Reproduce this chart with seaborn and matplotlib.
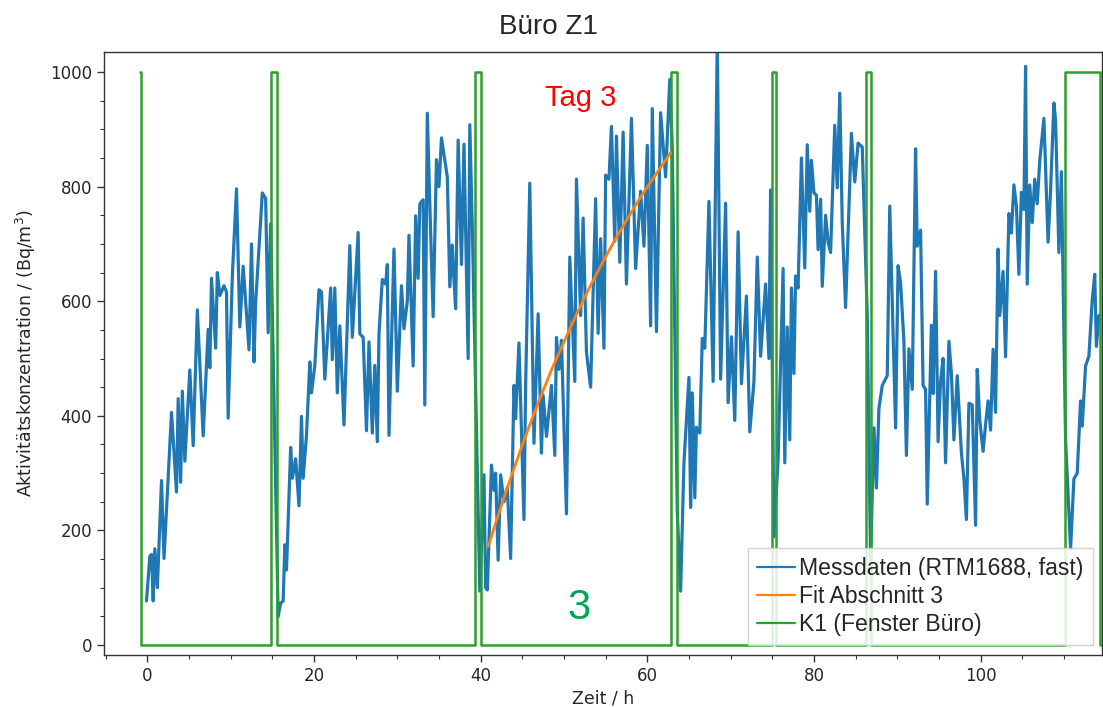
import numpy as np
import pandas as pd
import matplotlib
matplotlib.use("Agg")
import matplotlib.pyplot as plt
from matplotlib.ticker import MultipleLocator
import seaborn as sns

# ---------------- data ----------------
# Messdaten (RTM1688, fast): time in h, activity concentration in Bq/m^3
t_mess = [
    -0.1, 0.3, 0.5, 0.7, 0.9, 1.2, 1.7, 2.0, 2.9, 3.5, 3.7, 4.0, 4.2, 4.5, 5.1, 5.5, 6.0, 6.7, 7.3, 7.5,
    7.7, 8.2, 8.4, 8.7, 9.2, 9.5, 9.7, 10.2, 10.7, 11.1, 11.5, 12.2, 12.5, 12.8, 13.0, 13.8, 14.2, 14.5, 14.8,
    15.7, 16.0, 16.3, 16.5, 16.7, 17.2, 17.4, 17.8, 18.2, 18.5, 18.7, 19.1, 19.5, 19.7, 20.1, 20.6, 20.9,
    21.3, 22.0, 22.2, 22.5, 22.8, 23.1, 23.6, 24.3, 24.6, 25.3, 25.5, 25.9, 26.3, 26.6, 27.0, 27.3, 27.6,
    27.8, 28.2, 28.6, 28.8, 29.0, 29.6, 30.0, 30.5, 30.8, 31.2, 31.4, 31.9, 32.2, 32.5, 32.7, 33.1, 33.3,
    33.6, 33.9, 34.3, 34.7, 35.0, 35.3, 36.0, 36.3, 36.6, 36.7, 37.0, 37.3, 37.7, 38.0, 38.5, 38.7, 39.0,
    39.9, 40.4, 40.6, 40.8, 41.3, 41.6, 41.8, 42.1, 42.4, 42.8, 43.2, 43.6, 44.0, 44.2, 44.6, 45.2, 45.4,
    45.9, 46.4, 46.9, 47.3, 47.5, 47.9, 48.5, 48.9, 49.1, 49.4, 49.7, 50.3, 50.7, 51.3, 51.5, 52.0, 52.3,
    52.7, 53.2, 53.8, 54.1, 54.4, 54.8, 55.0, 55.4, 55.7, 56.1, 56.3, 56.7, 57.1, 57.5, 58.1, 58.6, 59.2,
    59.6, 60.0, 60.4, 60.6, 61.1, 61.6, 62.2, 62.7, 63.0,
    63.6, 64.0, 64.4, 65.0, 65.2, 65.4, 65.7, 65.9, 66.3, 66.6, 66.9, 67.4, 67.9, 68.4, 68.8, 69.4, 69.7,
    70.1, 70.5, 70.9, 71.3, 71.9, 72.3, 72.8, 73.2, 73.6, 74.2, 74.6, 74.8, 75.2, 75.7, 76.3, 76.5, 76.8,
    77.1, 77.3, 77.6, 77.8, 78.1, 78.5, 78.9, 79.2, 79.5, 79.7, 80.0, 80.3, 80.5, 80.8, 81.0, 81.4, 81.7,
    82.0, 82.5, 82.8, 83.1, 83.4, 83.8, 84.5, 84.9, 85.3, 85.8, 86.4, 86.8,
    87.2, 87.5, 87.8, 88.2, 88.8, 89.1, 89.8, 90.1, 90.4, 90.8, 91.1, 91.4, 91.8, 92.2, 92.4, 92.8, 93.1,
    93.4, 93.6, 94.1, 94.3, 94.6, 94.9, 95.2, 95.5, 95.8, 96.2, 96.5, 96.8, 97.2, 97.7, 98.0, 98.3, 98.6,
    99.0, 99.4, 99.6, 99.9, 100.3, 100.6, 100.9, 101.2, 101.5, 101.8, 102.1, 102.3, 102.7, 103.0, 103.4,
    103.7, 104.0, 104.3, 104.6, 104.9, 105.2, 105.4, 105.6, 105.9, 106.2, 106.5, 106.8, 107.1, 107.6,
    108.1, 108.4, 108.8, 109.0, 109.4, 109.7, 110.2, 110.8, 111.2, 111.6, 112.0, 112.2, 112.6, 113.0,
    113.4, 113.7, 113.9, 114.2,
]
c_mess = [
    77, 155, 158, 77, 168, 100, 287, 151, 406, 267, 430, 284, 443, 321, 480, 348, 585, 365, 551, 484,
    640, 518, 650, 610, 627, 616, 396, 644, 796, 555, 661, 515, 700, 494, 598, 789, 779, 545, 735,
    50, 73, 77, 175, 131, 345, 291, 325, 243, 399, 291, 366, 494, 440, 488, 620, 616,
    464, 623, 498, 623, 440, 557, 384, 697, 537, 720, 543, 537, 374, 529, 370, 488, 355,
    543, 638, 630, 664, 366, 691, 443, 627, 552, 600, 715, 487, 749, 640, 770, 777, 419,
    928, 770, 573, 847, 800, 885, 817, 625, 698, 664, 587, 881, 664, 874, 500, 908, 730,
    94, 297, 100, 96, 314, 270, 300, 148, 297, 250, 275, 151, 453, 395, 527, 219, 453,
    806, 352, 578, 335, 436, 364, 453, 331, 537, 481, 532, 229, 677, 460, 813, 575, 745,
    511, 450, 779, 544, 709, 518, 820, 813, 905, 705, 888, 668, 895, 630, 919, 657, 792,
    696, 872, 557, 936, 547, 929, 817, 987, 868,
    233, 94, 318, 467, 240, 440, 257, 380, 370, 535, 518, 774, 460, 1060, 464, 771, 423,
    538, 392, 721, 456, 609, 372, 460, 677, 504, 630, 500, 794, 189, 325, 657, 318, 555,
    358, 623, 474, 644, 623, 850, 658, 873, 757, 846, 789, 785, 690, 778, 626, 750, 703,
    685, 907, 798, 963, 737, 589, 893, 808, 876, 869, 575, 148,
    379, 274, 413, 453, 470, 766, 379, 662, 632, 530, 331, 517, 446, 866, 696, 724, 453,
    446, 246, 558, 439, 652, 355, 460, 500, 318, 530, 474, 358, 470, 335, 291, 219, 422,
    419, 209, 481, 392, 338, 385, 426, 375, 516, 406, 691, 575, 652, 503, 753,
    719, 803, 766, 647, 790, 760, 1010, 630, 803, 737, 813, 770, 845, 919,
    703, 793, 946, 916, 685, 826, 358, 168, 290, 300, 426, 382, 487, 504,
    602, 647, 521, 575,
]

# Fit Abschnitt 3
t_fit = [40.9, 42.5, 44.0, 45.5, 47.0, 48.5, 50.0, 51.5, 53.0, 54.5, 56.0, 57.5, 59.0, 60.5, 62.8]
c_fit = [172, 244, 308, 369, 426, 480, 529, 577, 622, 664, 704, 741, 777, 810, 859]

# K1 (Fenster Büro): window state (scaled to 1000 = open), step-post
t_k1 = [-0.9, -0.8, 14.8, 15.6, 39.3, 40.0, 62.9, 63.6, 75.0, 75.4, 86.3, 86.9, 110.1, 114.3, 114.6]
v_k1 = [1000, 0, 1000, 0, 1000, 0, 1000, 0, 1000, 0, 1000, 0, 1000, 0, 0]

labels = ["Messdaten (RTM1688, fast)", "Fit Abschnitt 3", "K1 (Fenster Büro)"]
xticks = [0, 20, 40, 60, 80, 100]
yticks = [0, 200, 400, 600, 800, 1000]

# ---------------- plot ----------------
sns.set_theme(style="ticks")
plt.rcParams["font.family"] = ["DejaVu Sans"]

fig = plt.figure(figsize=(11.03, 7.07), dpi=100)
ax = fig.add_axes([0.0943, 0.0735, 0.905, 0.853])

df_m = pd.DataFrame({"t": t_mess, "c": c_mess})
df_f = pd.DataFrame({"t": t_fit, "c": c_fit})
df_k = pd.DataFrame({"t": t_k1, "c": v_k1})

sns.lineplot(data=df_m, x="t", y="c", ax=ax, color="#1f77b4", lw=2.3,
             estimator=None, sort=False, label=labels[0], zorder=2)
sns.lineplot(data=df_f, x="t", y="c", ax=ax, color="#ff7f0e", lw=2.0,
             estimator=None, sort=False, label=labels[1], zorder=3)
sns.lineplot(data=df_k, x="t", y="c", ax=ax, color="#2ca02c", lw=1.8,
             estimator=None, sort=False, drawstyle="steps-post", label=labels[2], zorder=2)

ax.set_xlim(-5.2, 114.6)
ax.set_ylim(-17.5, 1035)
ax.set_xticks(xticks)
ax.set_yticks(yticks)
ax.xaxis.set_minor_locator(MultipleLocator(5))
ax.yaxis.set_minor_locator(MultipleLocator(50))
ax.tick_params(axis="both", which="major", labelsize=12, length=5, width=1, color="#333333")
ax.tick_params(axis="both", which="minor", length=3, width=0.8, color="#333333")
for s in ax.spines.values():
    s.set_color("#333333")
    s.set_linewidth(1.0)

ax.set_xlabel("Zeit / h", fontsize=12.5, labelpad=3)
ax.set_ylabel("Aktivitätskonzentration / (Bq/m$^3$)", fontsize=12.5, labelpad=9)
ax.grid(False)

fig.text(0.497, 0.962, "Büro Z1", fontsize=20, family=["Liberation Sans", "DejaVu Sans"],
         ha="center", va="center")
ax.text(52.0, 955, "Tag 3", color="#ff0000", fontsize=21,
        family=["Liberation Sans", "DejaVu Sans"], ha="center", va="center")
ax.text(51.8, 65, "3", color="#00a651", fontsize=30,
        family=["Liberation Sans", "DejaVu Sans"], ha="center", va="center")

leg = ax.legend(loc="lower right", handlelength=1.65, handletextpad=0.15,
                labelspacing=0.22, borderpad=0.4, borderaxespad=0.42,
                frameon=True, fancybox=False, framealpha=0.85, edgecolor="#cccccc",
                prop={"family": ["Liberation Sans", "DejaVu Sans"], "size": 16.6})
for h in leg.get_lines():
    h.set_linewidth(1.6)

fig.savefig("out.png", dpi=100)
